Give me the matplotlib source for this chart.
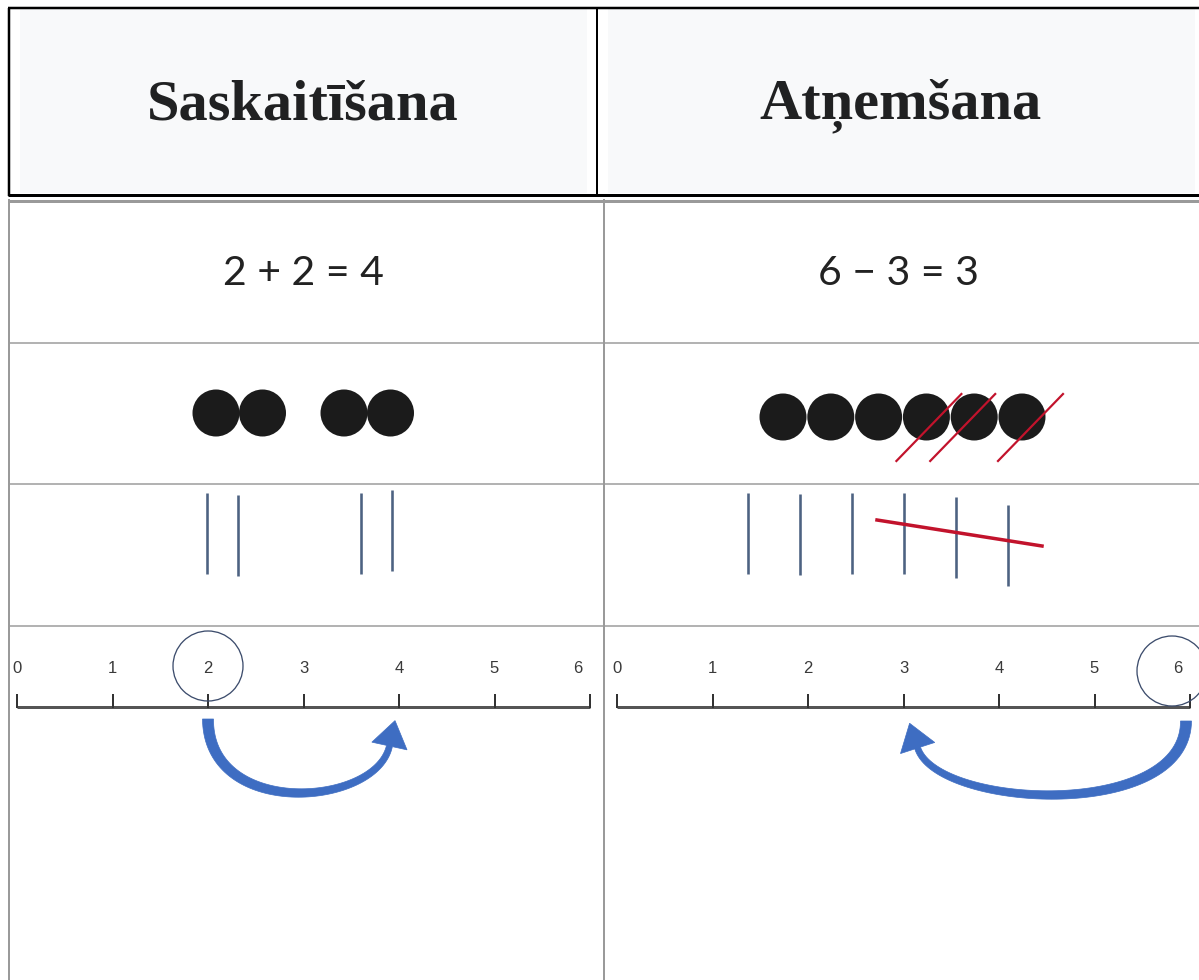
import numpy as np
import matplotlib
matplotlib.use("Agg")
import matplotlib.pyplot as plt
from matplotlib.patches import Circle, Polygon, Rectangle

# ---------------- data ----------------
headers = ["Saskaitīšana", "Atņemšana"]
equations = ["2 + 2 = 4", "6 − 3 = 3"]
dot_groups = [[2, 2], [6]]          # dots per group in each column
dots_crossed = [0, 3]               # how many dots (from the right) are crossed out
tally_groups = [[2, 2], [6]]
tallies_crossed = [0, 3]
number_line_ticks = [0, 1, 2, 3, 4, 5, 6]
jump_start = [2, 6]
jump_end = [4, 3]

# ---------------- styles ----------------
W, H = 1199, 980
fig = plt.figure(figsize=(W / 100, H / 100), dpi=100)
ax = fig.add_axes([0, 0, 1, 1])
ax.set_xlim(0, W)
ax.set_ylim(H, 0)
ax.axis("off")

def px(v):  # pixel width -> points
    return v * 0.72

BLACK = "#000000"
GRID = "#9a9a9a"
HEAD_BG = "#f8f9fa"
TEXT = "#202122"
DOT = "#1b1b1b"
RED = "#c2132c"
TALLY = "#4d6282"
AXIS = "#555555"
BLUE = "#3e6dc2"
CIRC = "#3c4c6c"

# ---------------- header ----------------
ax.add_patch(Rectangle((20, 9), 567, 184, facecolor=HEAD_BG, edgecolor="none"))
ax.add_patch(Rectangle((608, 9), 587, 184, facecolor=HEAD_BG, edgecolor="none"))
ax.plot([8, W], [8, 8], color=BLACK, lw=px(2.5), solid_capstyle="butt")
ax.plot([9, 9], [8, 196], color=BLACK, lw=px(2.5), solid_capstyle="butt")
ax.plot([597, 597], [8, 196], color=BLACK, lw=px(2), solid_capstyle="butt")
ax.plot([8, W], [195, 195], color=BLACK, lw=px(3), solid_capstyle="butt")
header_x = [303, 901]
for hx, t in zip(header_x, headers):
    ax.text(hx, 106, t, ha="center", va="center", fontsize=42, fontweight="bold",
            family=["Liberation Serif", "DejaVu Serif"], color=TEXT)

# ---------------- body grid ----------------
ax.plot([8, W], [201, 201], color=GRID, lw=px(3), solid_capstyle="butt")
for yy in [343, 484, 626]:
    ax.plot([8, W], [yy, yy], color=GRID, lw=px(1.5), solid_capstyle="butt")
for xx in [9, 604]:
    ax.plot([xx, xx], [199, H], color=GRID, lw=px(2), solid_capstyle="butt")

# ---------------- equations ----------------
for cx, eq in zip([303, 898], equations):
    ax.text(cx, 273, eq, ha="center", va="center", fontsize=29.5,
            family=["Lato", "DejaVu Sans"], color="#222222")

# ---------------- dots ----------------
dot_r = 23.5
dot_start = [216, 783]
dot_step = [46.5, 47.8]
dot_gap = [35, 0]
dot_y = [413, 417]
for c in range(2):
    xs = []
    k = 0
    for g, n in enumerate(dot_groups[c]):
        for i in range(n):
            xs.append(dot_start[c] + k * dot_step[c] + g * dot_gap[c])
            k += 1
    for x in xs:
        ax.add_patch(Circle((x, dot_y[c]), dot_r, facecolor=DOT, edgecolor="none", zorder=3))
    nc = dots_crossed[c]
    for j, x in enumerate(xs[len(xs) - nc:] if nc else []):
        off = [2, -12, 8][j]
        cxs, cys = x + off, dot_y[c] + 10
        ax.plot([cxs - 32, cxs + 33], [cys + 34, cys - 33], color=RED, lw=px(2.2), zorder=4)

# ---------------- tallies ----------------
tally_start = [207, 748]
tally_step = [31, 52]
tally_gap = [92, 0]
tally_top, tally_bot = 493, 574
tally_drift = [[0, 2, 0, -3], [0, 1, 0, 0, 4, 12]]
for c in range(2):
    xs = []
    k = 0
    for g, n in enumerate(tally_groups[c]):
        for i in range(n):
            xs.append(tally_start[c] + k * tally_step[c] + g * tally_gap[c])
            k += 1
    for x, d in zip(xs, tally_drift[c]):
        ax.plot([x, x], [tally_top + d, tally_bot + d], color=TALLY, lw=px(2.6),
                solid_capstyle="butt", zorder=3)
    nc = tallies_crossed[c]
    if nc:
        x_first, x_last = xs[len(xs) - nc], xs[-1]
        ax.plot([x_first - 27, x_last + 34], [520, 546], color=RED, lw=px(3.5), zorder=4)

# ---------------- number lines ----------------
nl_x0 = [17, 617]
nl_step = 95.5
nl_axis_y = 707
nl_label_y = 668

def nl(c, v):
    return nl_x0[c] + v * nl_step

for c in range(2):
    ax.plot([nl(c, number_line_ticks[0]), nl(c, number_line_ticks[-1])],
            [nl_axis_y, nl_axis_y], color=AXIS, lw=px(3), solid_capstyle="butt", zorder=3)
    for v in number_line_ticks:
        ax.plot([nl(c, v), nl(c, v)], [695, nl_axis_y], color="#333333", lw=px(2), zorder=3)
        lx = nl(c, v) - (12 if v == number_line_ticks[-1] else 0)
        ax.text(lx, nl_label_y, str(v), ha="center", va="center", fontsize=12,
                family=["Liberation Sans", "DejaVu Sans"], color="#3a3a3a")
    sx = nl(c, jump_start[c]) - (12 if jump_start[c] == number_line_ticks[-1] else 0)
    ax.add_patch(Circle((sx - (6 if c == 1 else 0), 666 + (5 if c == 1 else 0)), 35,
                        facecolor="none", edgecolor=CIRC, lw=px(1.3), zorder=4))

# ---------------- jump arrows ----------------
def jump_arrow(xs, xe, y0, color):
    dx = xe - xs
    P0 = np.array([xs, y0])
    P1 = np.array([xs, y0 + 100])
    P2 = np.array([xe - 0.12 * dx, y0 + 88])
    P3 = np.array([xe - 0.05 * dx, y0 + 27])
    t = np.linspace(0, 1, 80)[:, None]
    B = (1 - t) ** 3 * P0 + 3 * (1 - t) ** 2 * t * P1 + 3 * (1 - t) * t ** 2 * P2 + t ** 3 * P3
    D = 3 * (1 - t) ** 2 * (P1 - P0) + 6 * (1 - t) * t * (P2 - P1) + 3 * t ** 2 * (P3 - P2)
    D = D / np.linalg.norm(D, axis=1, keepdims=True)
    N = np.column_stack([-D[:, 1], D[:, 0]])
    w = (11 + (6 - 11) * t[:, 0])[:, None] / 2
    left = B + N * w
    right = B - N * w
    u = D[-1]
    n = N[-1]
    hl, hw = 26, 18
    head = [P3 + n * hw, P3 + u * hl, P3 - n * hw]
    pts = np.vstack([left, head, right[::-1]])
    ax.add_patch(Polygon(pts, closed=True, facecolor=color, edgecolor=color,
                         lw=0.5, zorder=4))

for c in range(2):
    xs = nl(c, jump_start[c]) - (4 if c == 1 else 0)
    xe = nl(c, jump_end[c])
    jump_arrow(xs, xe, 719 + (2 if c == 1 else 0), BLUE)

fig.savefig("out.png", dpi=100, facecolor="white")
